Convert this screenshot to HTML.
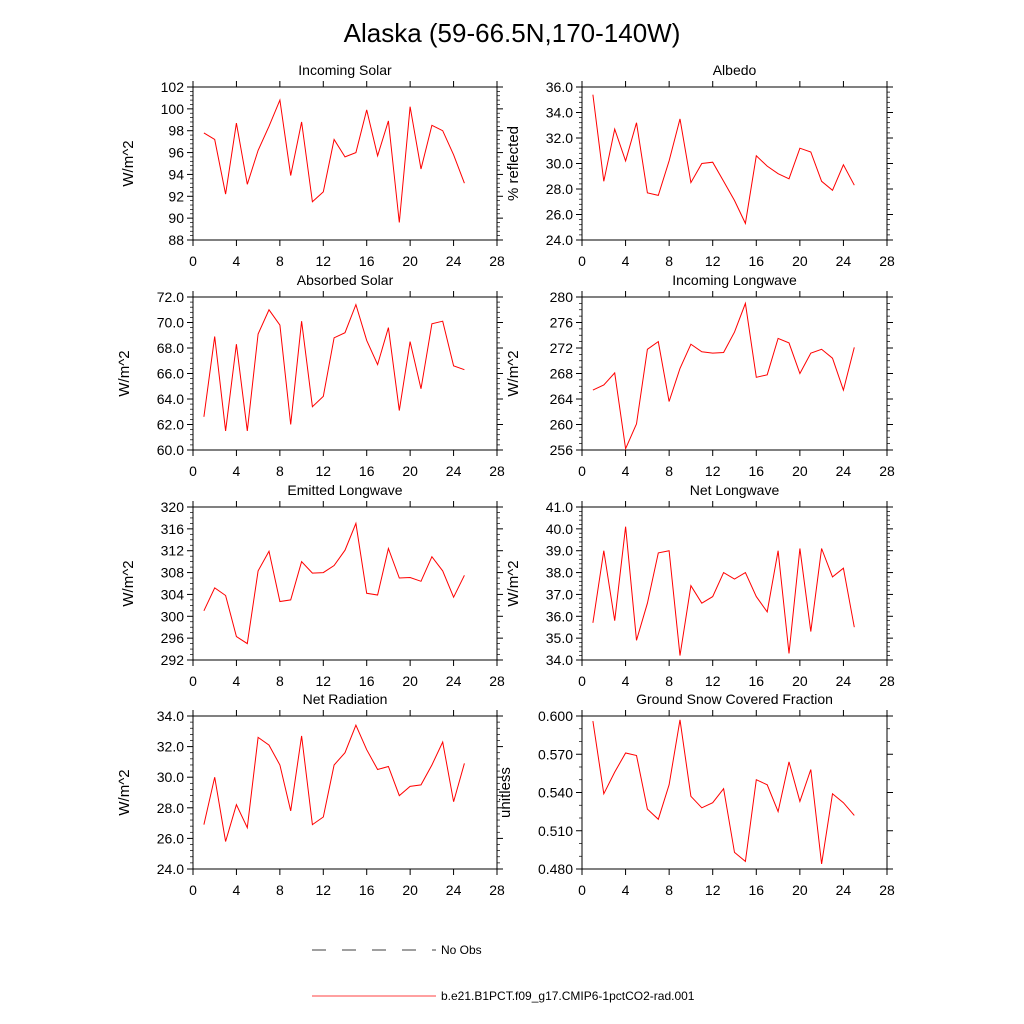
<!DOCTYPE html>
<html><head><meta charset="utf-8"><style>
body{margin:0;background:#fff}
svg{display:block;font-family:"Liberation Sans",Arial,sans-serif}
</style></head><body>
<svg id="c" width="1024" height="1024" viewBox="0 0 1024 1024">
<text x="512" y="42" font-size="26" text-anchor="middle">Alaska (59-66.5N,170-140W)</text>
<g>
<line x1="312" y1="950" x2="436" y2="950" stroke="#000" stroke-width="0.8" stroke-dasharray="14,16"/>
<text x="441" y="954" font-size="12">No Obs</text>
<line x1="312" y1="996" x2="436" y2="996" stroke="red" stroke-width="0.8"/>
<text x="441" y="1000" font-size="12">b.e21.B1PCT.f09_g17.CMIP6-1pctCO2-rad.001</text>
</g>
</svg>
<script>
const xValues=[1,2,3,4,5,6,7,8,9,10,11,12,13,14,15,16,17,18,19,20,21,22,23,24,25];
const xTicks=[0,4,8,12,16,20,24,28];
const incomingSolar=[97.8,97.2,92.2,98.7,93.1,96.2,98.4,100.8,93.9,98.8,91.5,92.4,97.2,95.6,96.0,99.9,95.7,98.9,89.6,100.2,94.5,98.5,98.0,95.8,93.2];
const albedo=[35.4,28.6,32.7,30.2,33.2,27.7,27.5,30.2,33.5,28.5,30.0,30.1,28.6,27.1,25.3,30.6,29.8,29.2,28.8,31.2,30.9,28.6,27.9,29.9,28.3];
const absorbedSolar=[62.6,68.9,61.5,68.3,61.5,69.1,71.0,69.8,62.0,70.1,63.4,64.2,68.8,69.2,71.4,68.6,66.7,69.6,63.1,68.5,64.8,69.9,70.1,66.6,66.3];
const incomingLW=[265.4,266.2,268.1,256.2,260.1,271.8,273.0,263.6,268.8,272.6,271.4,271.2,271.3,274.5,279.0,267.4,267.8,273.5,272.8,268.0,271.2,271.8,270.4,265.4,272.1];
const emittedLW=[301.0,305.2,303.8,296.3,295.0,308.3,311.9,302.7,303.0,310.0,307.9,308.0,309.3,312.1,317.0,304.2,303.9,312.4,307.0,307.1,306.4,310.9,308.3,303.5,307.5];
const netLW=[35.7,39.0,35.8,40.1,34.9,36.6,38.9,39.0,34.2,37.4,36.6,36.9,38.0,37.7,38.0,36.9,36.2,39.0,34.3,39.1,35.3,39.1,37.8,38.2,35.5];
const netRad=[26.9,30.0,25.8,28.2,26.7,32.6,32.1,30.8,27.8,32.7,26.9,27.4,30.8,31.6,33.4,31.8,30.5,30.7,28.8,29.4,29.5,30.8,32.3,28.4,30.9];
const snowFrac=[0.596,0.539,0.556,0.571,0.569,0.527,0.519,0.546,0.597,0.537,0.528,0.532,0.543,0.493,0.486,0.550,0.546,0.525,0.564,0.533,0.558,0.484,0.539,0.532,0.522];
const tIS=[88,90,92,94,96,98,100,102];
const tAl=[24,26,28,30,32,34,36];
const tAS=[60,62,64,66,68,70,72];
const tIL=[256,260,264,268,272,276,280];
const tEL=[292,296,300,304,308,312,316,320];
const tNL=[34,35,36,37,38,39,40,41];
const tNR=[24,26,28,30,32,34];
const tSF=[0.48,0.51,0.54,0.57,0.60];

const NS='http://www.w3.org/2000/svg';
const svg=document.getElementById('c');
function mk(tag,attrs,parent){const e=document.createElementNS(NS,tag);for(const k in attrs)e.setAttribute(k,attrs[k]);parent.appendChild(e);return e;}
const cols=[[193,497],[582,887]];
const rows=[[87,240],[297,450],[507,660],[716,869]];
const panels=[
 {t:'Incoming Solar',y:'W/m^2',d:incomingSolar,tk:tIS,dec:0,minor:4,c:0,r:0,off:60,slug:'incoming-solar'},
 {t:'Albedo',y:'% reflected',d:albedo,tk:tAl,dec:1,minor:4,c:1,r:0,off:64,slug:'albedo'},
 {t:'Absorbed Solar',y:'W/m^2',d:absorbedSolar,tk:tAS,dec:1,minor:4,c:0,r:1,off:64,slug:'absorbed-solar'},
 {t:'Incoming Longwave',y:'W/m^2',d:incomingLW,tk:tIL,dec:0,minor:3,c:1,r:1,off:64,slug:'incoming-longwave'},
 {t:'Emitted Longwave',y:'W/m^2',d:emittedLW,tk:tEL,dec:0,minor:3,c:0,r:2,off:60,slug:'emitted-longwave'},
 {t:'Net Longwave',y:'W/m^2',d:netLW,tk:tNL,dec:1,minor:4,c:1,r:2,off:64,slug:'net-longwave'},
 {t:'Net Radiation',y:'W/m^2',d:netRad,tk:tNR,dec:1,minor:4,c:0,r:3,off:64,slug:'net-radiation'},
 {t:'Ground Snow Covered Fraction',y:'unitless',d:snowFrac,tk:tSF,dec:3,minor:2,c:1,r:3,off:72,slug:'snow-fraction'}];
panels.forEach(p=>{
 const [x0,x1]=cols[p.c],[y0,y1]=rows[p.r];
 const g=mk('g',{},svg);
 
 
 const ymin=p.tk[0],ymax=p.tk[p.tk.length-1];
 const sx=v=>x0+(v-xTicks[0])/(xTicks[xTicks.length-1]-xTicks[0])*(x1-x0);
 const sy=v=>y1-(v-ymin)/(ymax-ymin)*(y1-y0);
 const frame=mk('rect',{x:x0,y:y0,width:x1-x0,height:y1-y0,fill:'none',stroke:'#000','stroke-width':1},g);
 
 
 xTicks.forEach(v=>{const x=sx(v);
  mk('line',{x1:x,y1:y1,x2:x,y2:y1+6,stroke:'#000'},g);
  mk('line',{x1:x,y1:y0,x2:x,y2:y0-6,stroke:'#000'},g);
  const t=mk('text',{x:x,y:y1+26,'font-size':14,'text-anchor':'middle'},g);t.textContent=v;
  
  });
 const step=p.tk[1]-p.tk[0];
 p.tk.forEach((v,i)=>{const y=sy(v);
  mk('line',{x1:x0,y1:y,x2:x0-6,y2:y,stroke:'#000'},g);
  mk('line',{x1:x1,y1:y,x2:x1+6,y2:y,stroke:'#000'},g);
  if(i<p.tk.length-1){for(let m=1;m<=p.minor;m++){const ym=sy(v+step*m/(p.minor+1));
   mk('line',{x1:x0,y1:ym,x2:x0-3,y2:ym,stroke:'#000','stroke-width':0.7},g);
   mk('line',{x1:x1,y1:ym,x2:x1+3,y2:ym,stroke:'#000','stroke-width':0.7},g);}}
  const t=mk('text',{x:x0-9,y:y+5,'font-size':14,'text-anchor':'end'},g);t.textContent=v.toFixed(p.dec);
  
  });
 const tt=mk('text',{x:(x0+x1)/2,y:y0-12,'font-size':14,'text-anchor':'middle'},g);tt.textContent=p.t;
 
 
 const yx=x0-p.off,yc=(y0+y1)/2;
 const yt=mk('text',{x:yx,y:yc,'font-size':15,'text-anchor':'middle',transform:`rotate(-90 ${yx} ${yc})`},g);yt.textContent=p.y;
 
 
 const pts=p.d.map((v,i)=>sx(xValues[i]).toFixed(1)+','+sy(v).toFixed(1)).join(' ');
 const pl=mk('polyline',{points:pts,fill:'none',stroke:'red','stroke-width':1},g);
 
 
});
</script>
</body></html>
